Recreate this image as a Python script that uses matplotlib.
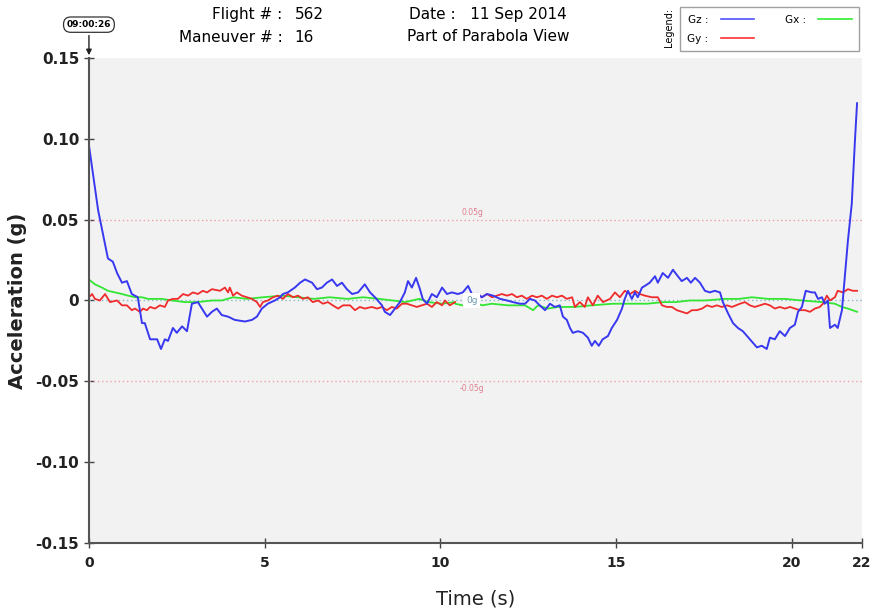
import numpy as np
import matplotlib
matplotlib.use("Agg")
import matplotlib.pyplot as plt

# Gz (blue) - time (s) and acceleration (g), nan = gap in recording
gz_t = [0.00, 0.26, 0.40, 0.54, 0.68, 0.80, 0.94, 1.08, 1.22, 1.39, 1.51, 1.59, 1.74, 1.94,
        2.05, 2.16, 2.25, 2.39, 2.50, 2.65, 2.79, 2.93, 3.10, 3.36, 3.50, 3.64, 3.78, 3.96,
        4.15, 4.44, 4.64, 4.78, 4.92, 5.09, 5.29, 5.44, 5.52, 5.66, 5.86, 6.01, 6.15, 6.35,
        6.49, 6.63, 6.77, 6.92, 7.06, 7.20, 7.34, 7.49, 7.66, 7.85, 8.00, 8.14, 8.34, 8.42,
        8.57, 8.71, 8.85, 8.99, 9.08, 9.19, 9.31, 9.42, 9.50, 9.62, 9.76, 9.90, 10.05, 10.19,
        10.33, 10.50, 10.64, 10.79, 10.90, 10.98,
        11.07, 11.18, 11.33, 11.50, 11.70, 11.90, 12.07, 12.27, 12.41, 12.55, 12.69, 12.83,
        12.98, 13.12, 13.26, 13.40, 13.49, 13.60, 13.69, 13.77, 13.92, 14.06, 14.20, 14.31,
        14.40, 14.51, 14.62, 14.77, 14.88, 15.03, 15.17, 15.25, 15.34, 15.45, 15.54, 15.62,
        15.74, 15.82, 15.96, 16.11, 16.19, 16.33, 16.48, 16.62, 16.76, 16.87, 17.02, 17.13,
        17.25, 17.39, 17.53, 17.67, 17.81, 17.96, 18.04, 18.19, 18.33, 18.47, 18.61, 18.81,
        19.01, 19.15, 19.29, 19.38, 19.52, 19.66, 19.81, 19.95, 20.09, 20.18, 20.29, 20.40,
        20.57, 20.66, 20.75, 20.86, 20.94, 21.03, 21.09, 21.23, 21.31, 21.43, 21.51, 21.60,
        21.71, 21.80, 21.86]
gz = [0.096, 0.056, 0.041, 0.026, 0.024, 0.017, 0.011, 0.012, 0.004, 0.002, -0.014, -0.014,
      -0.024, -0.024, -0.030, -0.024, -0.025, -0.017, -0.020, -0.016, -0.019, -0.002, -0.001,
      -0.010, -0.007, -0.005, -0.009, -0.010, -0.012, -0.013, -0.012, -0.010, -0.005, -0.002,
      0.000, 0.002, 0.004, 0.005, 0.008, 0.011, 0.013, 0.011, 0.007, 0.008, 0.011, 0.013,
      0.009, 0.011, 0.007, 0.004, 0.005, 0.010, 0.005, 0.002, -0.003, -0.007, -0.009, -0.005,
      -0.001, 0.005, 0.012, 0.008, 0.014, 0.007, 0.001, -0.002, 0.004, 0.002, 0.008, 0.004,
      0.005, 0.004, 0.005, 0.009, 0.004, np.nan,
      0.004, 0.002, 0.004, 0.003, 0.001, 0.000, -0.001, -0.002, -0.002, 0.001, 0.000, -0.003,
      -0.006, -0.002, -0.004, -0.003, -0.010, -0.012, -0.017, -0.020, -0.019, -0.020, -0.023,
      -0.028, -0.025, -0.028, -0.024, -0.022, -0.017, -0.012, -0.005, 0.001, 0.006, 0.001,
      0.005, 0.002, 0.008, 0.009, 0.011, 0.015, 0.011, 0.017, 0.014, 0.019, 0.015, 0.012,
      0.014, 0.011, 0.014, 0.011, 0.006, 0.005, 0.006, 0.005, -0.001, -0.008, -0.014, -0.017,
      -0.019, -0.024, -0.029, -0.028, -0.030, -0.023, -0.024, -0.019, -0.022, -0.017, -0.015,
      -0.007, -0.004, 0.006, 0.005, 0.005, 0.001, 0.002, -0.002, 0.000, -0.017, -0.015,
      -0.017, -0.006, 0.014, 0.037, 0.060, 0.099, 0.122]

# Gy (red)
gy_t = [0.00, 0.09, 0.17, 0.31, 0.46, 0.60, 0.80, 0.94, 1.08, 1.22, 1.31, 1.45, 1.54, 1.65,
        1.74, 1.88, 2.02, 2.16, 2.25, 2.39, 2.53, 2.68, 2.82, 2.96, 3.10, 3.24, 3.36, 3.50,
        3.73, 3.87, 3.96, 4.01, 4.10, 4.21, 4.35, 4.50, 4.64, 4.78, 4.87, 4.95, 5.09, 5.24,
        5.38, 5.52, 5.66, 5.81, 5.95, 6.09, 6.23, 6.37, 6.52, 6.66, 6.80, 6.94, 7.09, 7.23,
        7.43, 7.57, 7.71, 7.85, 8.05, 8.20, 8.34, 8.48, 8.62, 8.76, 8.91,
        9.05, 9.19, 9.33, 9.48, 9.62, 9.76, 9.90, 10.05, 10.13, 10.27, 10.42,
        10.70,
        11.07, 11.18, 11.33, 11.47, 11.61, 11.75, 11.90, 12.04, 12.18, 12.32, 12.46, 12.61,
        12.75, 12.89, 13.03, 13.18, 13.32, 13.46, 13.60, 13.75, 13.83, 13.97, 14.11, 14.20,
        14.34, 14.48, 14.63,
        14.83, 14.97, 15.11, 15.25, 15.40, 15.54, 15.68, 15.82, 16.02, 16.19, 16.31, 16.45,
        16.59, 16.73, 16.88, 17.02, 17.16, 17.30, 17.45, 17.59, 17.73, 17.87, 18.01, 18.16,
        18.30,
        18.53, 18.67, 18.81, 18.95, 19.09, 19.24, 19.38, 19.52, 19.66, 19.81, 19.95, 20.09,
        20.23, 20.38, 20.52, 20.66, 20.80, 20.89, 21.00, 21.09, 21.23, 21.31, 21.46, 21.60,
        21.74, 21.86]
gy = [0.002, 0.004, 0.001, 0.000, 0.004, -0.001, 0.000, -0.003, -0.003, -0.006, -0.005, -0.007,
      -0.005, -0.006, -0.004, -0.005, -0.003, -0.004, 0.000, 0.001, 0.001, 0.004, 0.003, 0.005,
      0.004, 0.006, 0.005, 0.007,
      0.006, 0.008, 0.005, 0.008, 0.003, 0.005, 0.003, 0.002, 0.001, -0.001, -0.004, -0.001,
      0.000, 0.002, 0.003, 0.001, 0.004, 0.002, 0.003, 0.001, 0.002, -0.001, 0.000, -0.002,
      -0.001, -0.003, -0.005, -0.003,
      -0.003, -0.006, -0.004, -0.005, -0.004, -0.005, -0.004, -0.006, -0.004, -0.005, -0.002,
      -0.002, -0.003, -0.004, -0.003, -0.002, -0.004, -0.001, -0.003, 0.000, -0.003, -0.001,
      np.nan,
      0.004, 0.002, 0.004, 0.002, 0.003, 0.004, 0.003, 0.004, 0.002, 0.003, 0.001, 0.003,
      0.002, 0.003, 0.001, 0.003, 0.002, 0.003, 0.001, 0.002, -0.004, -0.001, -0.004, 0.002,
      -0.003, 0.003, -0.001,
      0.001, 0.005, 0.002, 0.006, 0.004, 0.006, 0.004, 0.003, 0.002, 0.002, -0.003, -0.004,
      -0.004, -0.006, -0.007, -0.008, -0.006, -0.006, -0.005, -0.003, -0.004, -0.003, -0.004,
      -0.003, -0.004,
      -0.002, -0.001, -0.003, -0.004, -0.003, -0.002, -0.003, -0.005, -0.004, -0.005, -0.004,
      -0.005, -0.006, -0.006, -0.007, -0.005, -0.004, -0.002, 0.003, 0.000, 0.002, 0.006,
      0.005, 0.007, 0.006, 0.006]

# Gx (green)
gx_t = [0.00, 0.17, 0.37, 0.54, 0.74, 0.94, 1.11, 1.31, 1.51, 1.68, 1.88, 2.08, 2.36, 2.73,
        3.10, 3.50, 3.78, 4.10, 4.50, 4.95, 5.50, 5.95, 6.40, 6.85, 7.35, 7.80, 8.25, 8.65,
        9.00, 9.40, 9.65, 10.05, 10.40, 10.42, 10.85, 11.07, 11.19, 11.47, 11.92, 12.41,
        12.64, 12.78, 13.06, 13.35, 13.83, 14.31, 14.91, 15.40, 15.88, 16.35, 16.70, 17.10,
        17.53, 18.10, 18.50, 18.87, 19.33, 19.80, 20.29, 20.86, 21.23, 21.43, 21.60, 21.86]
gx = [0.013, 0.010, 0.008, 0.006, 0.005, 0.004, 0.003, 0.002, 0.002, 0.001, 0.001, 0.001,
      0.000, -0.001, -0.001, 0.000, 0.000, 0.002, 0.001, 0.002, 0.003, 0.002, 0.001, 0.002,
      0.001, 0.002, 0.001, 0.000, -0.001, 0.001, -0.001, -0.002, -0.001, -0.002, -0.004,
      -0.002, -0.003, -0.002, -0.003, -0.003, -0.006, -0.003, -0.005, -0.004, -0.004, -0.003,
      -0.002, -0.002, -0.002, -0.001, -0.001, 0.000, 0.000, 0.001, 0.001, 0.002, 0.001,
      0.001, 0.000, -0.001, -0.002, -0.004, -0.005, -0.007]

y_ticks = [0.15, 0.10, 0.05, 0, -0.05, -0.10, -0.15]
y_labels = ["0.15", "0.10", "0.05", "0", "-0.05", "-0.10", "-0.15"]
x_ticks = [0, 5, 10, 15, 20, 22]

fig = plt.figure(figsize=(8.72, 6.11), dpi=100)
ax = fig.add_axes([0.102, 0.1113, 0.8865, 0.7938])
ax.set_facecolor("#f2f2f2")

# reference lines
ax.axhline(0.05, color="#f0a0a8", lw=1, ls=(0, (1, 2)))
ax.axhline(-0.05, color="#f0a0a8", lw=1, ls=(0, (1, 2)))
ax.axhline(0, color="#88b8c8", lw=1, ls=(0, (1, 2)))

ax.plot(gx_t, gx, color="#33e633", lw=1.3)
ax.plot(gy_t, gy, color="#f02b2b", lw=1.3)
ax.plot(gz_t, gz, color="#3838f0", lw=1.4)

ax.text(10.9, 0.0515, "0.05g", color="#e07f8c", fontsize=5.5, ha="center", va="bottom")
ax.text(10.9, -0.0515, "-0.05g", color="#e07f8c", fontsize=5.5, ha="center", va="top")
ax.text(10.9, 0.0, "0g", color="#6a9bb0", fontsize=6.5, ha="center", va="center",
        bbox=dict(boxstyle="square,pad=0.3", fc="white", ec="none"))

ax.set_xlim(0, 22)
ax.set_ylim(-0.15, 0.15)
ax.set_yticks(y_ticks)
ax.set_yticklabels(y_labels, fontsize=11, fontweight="bold", color="#222222")
ax.set_xticks(x_ticks)
ax.set_xticklabels([str(v) for v in x_ticks], fontsize=10, fontweight="bold", color="#222222")
ax.tick_params(axis="both", direction="inout", length=7, width=1, color="#444444")
ax.tick_params(axis="x", pad=6)

for s in ["top", "right"]:
    ax.spines[s].set_visible(False)
for s in ["left", "bottom"]:
    ax.spines[s].set_color("#555555")
    ax.spines[s].set_linewidth(1.5)

ax.set_ylabel("Acceleration (g)", fontsize=14, fontweight="bold", color="#222222", labelpad=6)
ax.set_xlabel("Time (s)", fontsize=14, color="#222222", labelpad=14)

# time stamp marker
ax.annotate("09:00:26", xy=(0, 0.15), xycoords="data", xytext=(0, 24), textcoords="offset points",
            ha="center", va="center", fontsize=6.5, fontweight="bold",
            bbox=dict(boxstyle="round,pad=0.35,rounding_size=0.8", fc="white", ec="#333333", lw=0.9),
            arrowprops=dict(arrowstyle="-|>", color="#222222", lw=1, mutation_scale=8))

# header text
fig.text(0.324, 0.977, "Flight # :", ha="right", va="center", fontsize=11)
fig.text(0.338, 0.977, "562", ha="left", va="center", fontsize=11)
fig.text(0.324, 0.939, "Maneuver # :", ha="right", va="center", fontsize=11)
fig.text(0.338, 0.939, "16", ha="left", va="center", fontsize=11)
fig.text(0.56, 0.977, "Date :   11 Sep 2014", ha="center", va="center", fontsize=11)
fig.text(0.56, 0.941, "Part of Parabola View", ha="center", va="center", fontsize=11)

# legend
handles = [plt.Line2D([], [], color="#5050ff", lw=1.2),
           plt.Line2D([], [], color="#ff3030", lw=1.2),
           plt.Line2D([], [], color="#30ee30", lw=1.2)]
leg = fig.legend(handles, ["Gz :", "Gy :", "Gx :"], ncol=2, markerfirst=False,
                 loc="upper left", bbox_to_anchor=(0.78, 0.988), borderaxespad=0,
                 fontsize=7.5, frameon=True, fancybox=False, handlelength=3.2,
                 columnspacing=2.9, handletextpad=1.2, borderpad=0.7, labelspacing=0.9)
leg.get_frame().set_edgecolor("#888888")
leg.get_frame().set_linewidth(1)
fig.text(0.767, 0.955, "Legend:", rotation=90, ha="center", va="center", fontsize=7)

fig.savefig("out.png", dpi=100)
